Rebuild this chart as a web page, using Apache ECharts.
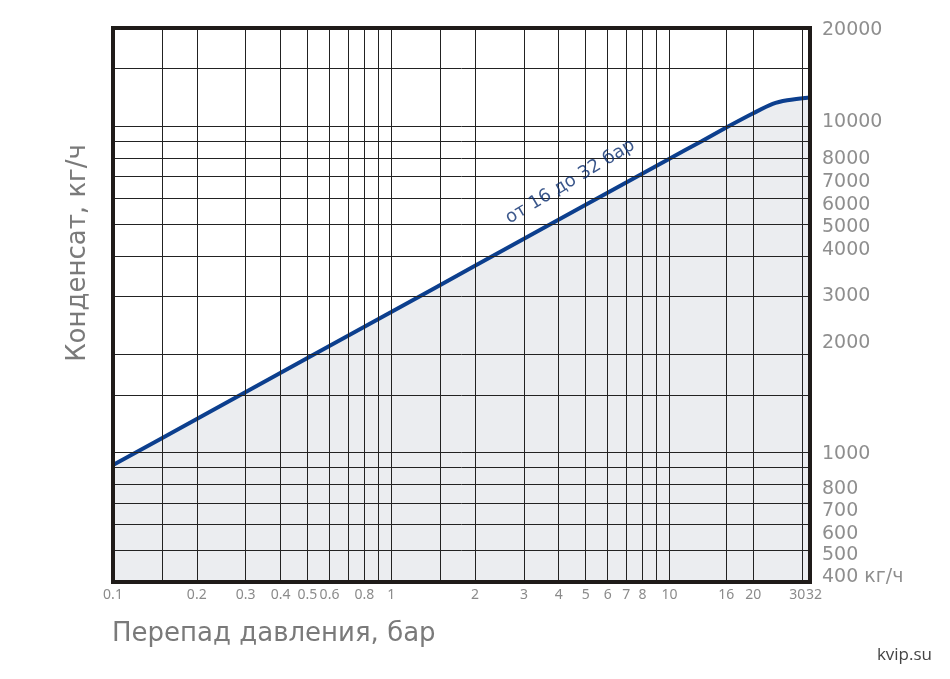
<!DOCTYPE html>
<html><head><meta charset="utf-8">
<script src="https://cdn.jsdelivr.net/npm/echarts@6/dist/echarts.min.js"></script>
<style>html,body{margin:0;padding:0;background:#fff}#c{width:950px;height:679px}</style>
</head><body><div id="c"></div>
<script>
// ---- data ----
const pressure   = [0.1, 0.2, 0.5, 1, 2, 5, 10, 13, 16, 20, 23.5, 26.5, 32];
const condensate = [914, 1265, 1945, 2690, 3730, 5740, 7950, 8980, 9900, 10950, 11700, 12000, 12240];
const xGridValues = [0.15, 0.2, 0.3, 0.4, 0.5, 0.6, 0.7, 0.8, 0.9, 1, 1.5, 2, 3, 4, 5, 6, 7, 8, 9, 10, 16, 20, 30];
const yGridValues = [500, 600, 700, 800, 900, 1000, 1500, 2000, 3000, 4000, 5000, 6000, 7000, 8000, 9000, 10000, 15000];
const xTickLabels = [0.1, 0.2, 0.3, 0.4, 0.5, 0.6, 0.8, 1, 2, 3, 4, 5, 6, 7, 8, 10, 16, 20, 30, 32];
const yTickLabels = [400, 500, 600, 700, 800, 1000, 2000, 3000, 4000, 5000, 6000, 7000, 8000, 10000, 20000];
const yUnit = 'кг/ч';
const xTitle = 'Перепад давления, бар';
const yTitle = 'Конденсат, кг/ч';
const curveName = 'от 16 до 32 бар';
const curveLabelPoint = [4.4, 6750];
const watermark = 'kvip.su';

// ---- styling ----
const X_MIN = 0.1, X_MAX = 32, Y_MIN = 400, Y_MAX = 20000;
const FONT = 'DejaVu Sans';
const BORDER = '#1f1b19';
// small vertical nudges of the right-hand labels (pixels), as laid out in the original
const yLabelNudge = {20000: 2, 10000: -4, 8000: 1, 7000: 5, 6000: 7, 5000: 3, 4000: -6, 3000: -1,
                     2000: -11, 1000: 2, 800: 5, 700: 8, 600: 9, 500: 5, 400: -5};

const chart = echarts.init(document.getElementById('c'), null, {renderer: 'canvas'});
const curve = pressure.map((p, i) => [p, condensate[i]]);

function axis(min, max, position) {
  return {
    type: 'log', logBase: 10, min, max, position, z: 10,
    axisLine: {show: true, onZero: false, lineStyle: {color: BORDER, width: 4, cap: 'square'}},
    axisTick: {show: false}, axisLabel: {show: false},
    splitLine: {show: false}, minorTick: {show: false}, minorSplitLine: {show: false}
  };
}

const option = {
  animation: false,
  backgroundColor: '#ffffff',
  grid: {left: 113, right: 140, top: 28, bottom: 97, containLabel: false},
  xAxis: [axis(X_MIN, X_MAX, 'bottom'), axis(X_MIN, X_MAX, 'top')],
  yAxis: [axis(Y_MIN, Y_MAX, 'right'), axis(Y_MIN, Y_MAX, 'left')],
  series: [
    {
      type: 'line', name: 'fill', data: curve, smooth: 0.3, showSymbol: false, silent: true, z: 1,
      lineStyle: {width: 0, opacity: 0},
      areaStyle: {color: '#ebedf0', opacity: 1, origin: 'start'}
    },
    {
      type: 'line', name: 'grid', data: curve, showSymbol: false, silent: true, z: 2,
      lineStyle: {opacity: 0},
      markLine: {
        silent: true, symbol: ['none', 'none'], animation: false,
        label: {show: false},
        lineStyle: {color: '#222222', width: 1, type: 'solid'},
        data: xGridValues.map(v => ({xAxis: v})).concat(yGridValues.map(v => ({yAxis: v})))
      }
    },
    {
      type: 'line', name: curveName, data: curve, smooth: 0.3, showSymbol: false, z: 3,
      lineStyle: {color: '#0c3f8e', width: 4}
    },
    {
      type: 'scatter', name: 'xlabels', clip: false, silent: true, symbolSize: 0, z: 5,
      data: xTickLabels.map(v => {
        const item = {value: [v, Y_MIN]};
        if (v === 30) item.label = {align: 'right', offset: [3, 0]};
        if (v === 32) item.label = {align: 'left', offset: [-4, 0]};
        return item;
      }),
      label: {show: true, position: 'bottom', distance: 6, color: '#6d6d6d', fontFamily: 'Noto Sans', fontSize: 14,
        formatter: p => String(p.value[0])}
    },
    {
      type: 'scatter', name: 'ylabels', clip: false, silent: true, symbolSize: 0, z: 5,
      data: yTickLabels.map(v => ({value: [X_MAX, v], label: {offset: [0, yLabelNudge[v] || 0]}})),
      label: {show: true, position: 'right', distance: 12, color: '#727272', fontFamily: FONT, fontSize: 19,
        formatter: p => p.value[1] === Y_MIN ? p.value[1] + ' ' + yUnit : String(p.value[1])}
    },
    {
      type: 'scatter', name: 'curvelabel', clip: false, silent: true, symbolSize: 0, z: 6,
      data: [curveLabelPoint],
      label: {show: true, position: 'inside', rotate: 31, color: '#0a2d6e', fontFamily: FONT, fontSize: 18,
        formatter: () => curveName}
    }
  ],
  graphic: [
    {type: 'text', x: 78, y: 253, rotation: Math.PI / 2, z: 20,
      style: {text: yTitle, fontFamily: FONT, fontSize: 26, fill: '#7a7a7a', align: 'center', verticalAlign: 'middle'}},
    {type: 'text', x: 112, y: 634, z: 20,
      style: {text: xTitle, fontFamily: FONT, fontSize: 26, fill: '#7a7a7a', align: 'left', verticalAlign: 'middle'}},
    {type: 'text', x: 932, y: 655, z: 20,
      style: {text: watermark, fontFamily: 'Open Sans', fontSize: 17, fill: '#444444', align: 'right', verticalAlign: 'middle'}}
  ]
};
chart.setOption(option);
</script>
</body></html>
